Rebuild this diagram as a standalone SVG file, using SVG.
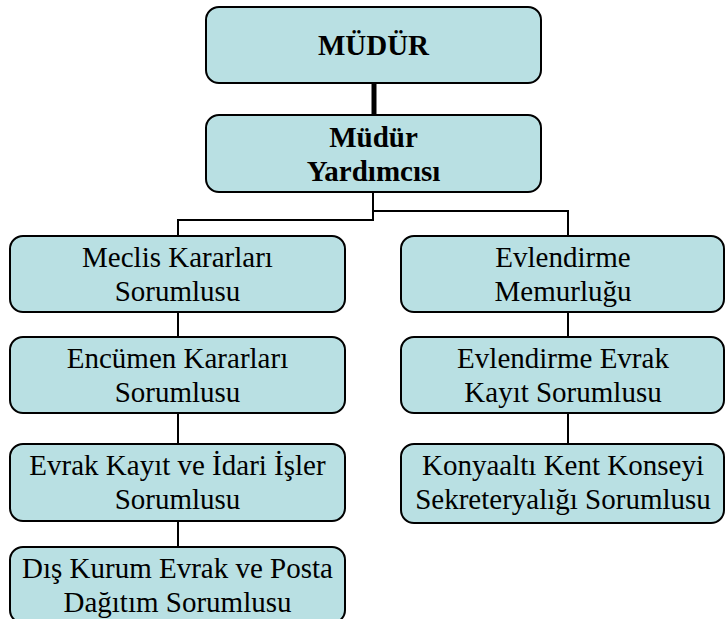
<svg xmlns="http://www.w3.org/2000/svg" width="726" height="619" viewBox="0 0 726 619">
<style>
.box{fill:#B9E0E3;stroke:#000;stroke-width:2}
.t{font-family:"Liberation Serif","Times New Roman",serif;font-size:29px;fill:#000;text-anchor:middle}
.b{font-weight:bold}
.c{fill:none;stroke:#000;stroke-width:2}
</style>
<rect width="726" height="619" fill="#fff"/>
<g id="connectors">
<line x1="374" y1="83" x2="374" y2="115" stroke="#000" stroke-width="5"/>
<polyline class="c" points="373,192 373,220 178,220 178,236"/>
<polyline class="c" points="373,211 568,211 568,236"/>
<line class="c" x1="178" y1="312" x2="178" y2="337"/>
<line class="c" x1="178" y1="413" x2="178" y2="444"/>
<line class="c" x1="178" y1="521" x2="178" y2="547"/>
<line class="c" x1="568" y1="312" x2="568" y2="337"/>
<line class="c" x1="568" y1="413" x2="568" y2="444"/>
</g>
<g id="mudur">
<rect class="box" x="206" y="7" width="335" height="76" rx="13"/>
<text class="t b" x="373.5" y="55">MÜDÜR</text>
</g>
<g id="mudur-yardimcisi">
<rect class="box" x="206" y="115" width="335" height="77" rx="13"/>
<text class="t b" x="373.5" y="147">Müdür</text>
<text class="t b" x="373.5" y="181">Yardımcısı</text>
</g>
<g id="meclis">
<rect class="box" x="10" y="236" width="335" height="76" rx="13"/>
<text class="t" x="177.5" y="267">Meclis Kararları</text>
<text class="t" x="177.5" y="301">Sorumlusu</text>
</g>
<g id="encumen">
<rect class="box" x="10" y="337" width="335" height="76" rx="13"/>
<text class="t" x="177.5" y="368">Encümen Kararları</text>
<text class="t" x="177.5" y="402">Sorumlusu</text>
</g>
<g id="evrak-kayit">
<rect class="box" x="10" y="444" width="335" height="77" rx="13"/>
<text class="t" x="177.5" y="475">Evrak Kayıt ve İdari İşler</text>
<text class="t" x="177.5" y="509">Sorumlusu</text>
</g>
<g id="dis-kurum">
<rect class="box" x="10" y="547" width="335" height="76" rx="13"/>
<text class="t" x="177.5" y="578">Dış Kurum Evrak ve Posta</text>
<text class="t" x="177.5" y="612">Dağıtım Sorumlusu</text>
</g>
<g id="evlendirme">
<rect class="box" x="401" y="236" width="323" height="76" rx="13"/>
<text class="t" x="563" y="267">Evlendirme</text>
<text class="t" x="563" y="301">Memurluğu</text>
</g>
<g id="evlendirme-evrak">
<rect class="box" x="401" y="337" width="323" height="76" rx="13"/>
<text class="t" x="563" y="368">Evlendirme Evrak</text>
<text class="t" x="563" y="402">Kayıt Sorumlusu</text>
</g>
<g id="konyaalti">
<rect class="box" x="401" y="444" width="323" height="79" rx="13"/>
<text class="t" x="563" y="475">Konyaaltı Kent Konseyi</text>
<text class="t" x="563" y="509">Sekreteryalığı Sorumlusu</text>
</g>
</svg>
